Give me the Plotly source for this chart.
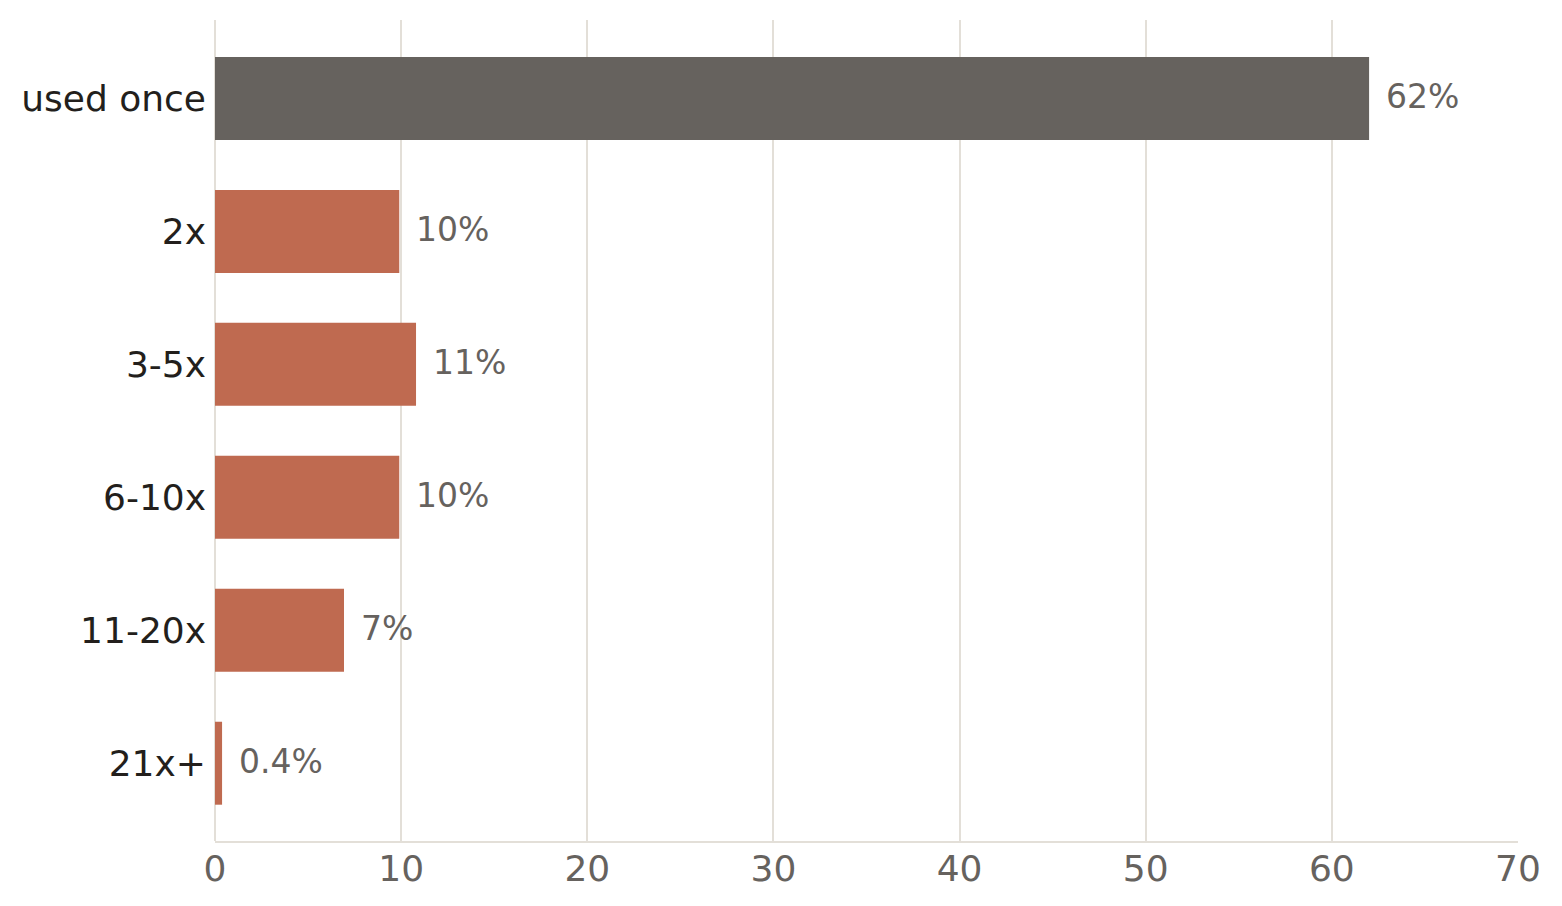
import plotly.graph_objects as go

categories = ["used once", "2x", "3-5x", "6-10x", "11-20x", "21x+"]
values = [62, 9.9, 10.8, 9.9, 6.93, 0.38]
value_labels = ["62%", "10%", "11%", "10%", "7%", "0.4%"]
bar_colors = ["#66625e", "#bf6a50", "#bf6a50", "#bf6a50", "#bf6a50", "#bf6a50"]
x_ticks = [0, 10, 20, 30, 40, 50, 60, 70]

FONT = "DejaVu Sans"

fig = go.Figure(
    go.Bar(
        x=values,
        y=categories,
        orientation="h",
        marker=dict(color=bar_colors, line=dict(width=0)),
        width=0.624,
        hoverinfo="skip",
    )
)

for v, c, lab in zip(values, categories, value_labels):
    fig.add_annotation(
        x=v, y=c, text=lab, showarrow=False, xanchor="left", yanchor="middle",
        xshift=15, yshift=2, font=dict(family=FONT, size=33, color="#66625e"),
    )

fig.update_layout(
    width=1562,
    height=906,
    margin=dict(l=207, r=52, t=12, b=73),
    paper_bgcolor="white",
    plot_bgcolor="white",
    showlegend=False,
    font=dict(family=FONT),
)
fig.update_xaxes(
    range=[0, 70],
    tickvals=x_ticks,
    showgrid=True,
    gridcolor="#e3dfd8",
    gridwidth=2,
    zeroline=True,
    zerolinecolor="#e3dfd8",
    zerolinewidth=2,
    showline=True,
    linecolor="#e3dfd8",
    linewidth=2,
    ticks="",
    tickfont=dict(family=FONT, size=36, color="#66625e"),
    ticklabelstandoff=-5,
)
fig.update_yaxes(
    categoryorder="array",
    categoryarray=categories,
    range=[5.585, -0.59],
    showgrid=False,
    zeroline=False,
    showline=False,
    ticks="",
    tickfont=dict(family=FONT, size=36, color="#231f1c"),
    ticklabelstandoff=8,
)

fig.write_html("out.html")
